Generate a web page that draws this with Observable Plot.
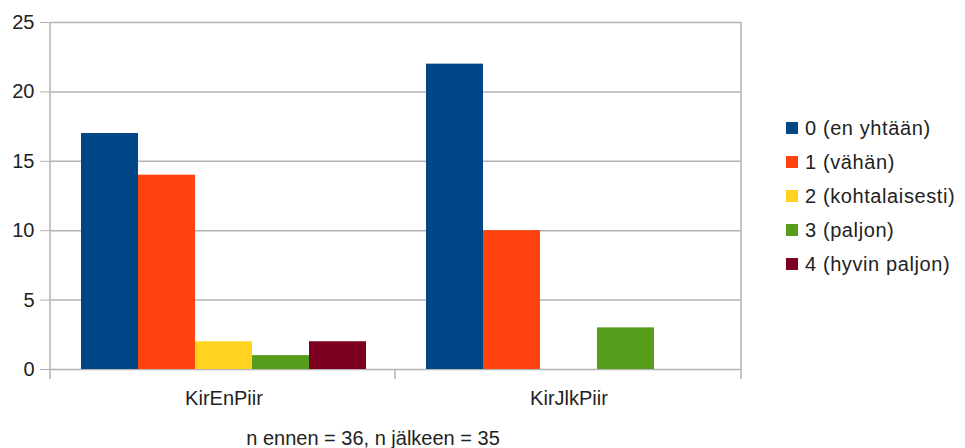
<!DOCTYPE html>
<html>
<head>
<meta charset="utf-8">
<script src="https://cdn.jsdelivr.net/npm/d3@7"></script>
<script src="https://cdn.jsdelivr.net/npm/@observablehq/plot@0.6"></script>
<style>
  html, body { margin: 0; padding: 0; background: #fff; overflow: hidden; }
  #wrap { position: relative; width: 965px; height: 448px; font-family: "Liberation Sans", Arial, sans-serif; color: #222; }
  #legend { position: absolute; left: 786px; top: 111px; font-size: 20px; }
  #legend .row { height: 34px; display: flex; align-items: center; white-space: nowrap; letter-spacing: 0.6px; }
  #legend .sw { width: 12px; height: 12px; margin-right: 7px; flex: none; }
  #caption { position: absolute; left: 0; width: 746px; top: 428px; text-align: center; font-size: 20px; line-height: 20px; white-space: nowrap; }
  svg [aria-label^="y-axis"] line, svg [aria-label^="y-axis"] path { stroke: #b3b3b3; }
</style>
</head>
<body>
<div id="wrap"></div>
<script>
const groups = ["KirEnPiir", "KirJlkPiir"];
const seriesNames = ["0 (en yhtään)", "1 (vähän)", "2 (kohtalaisesti)", "3 (paljon)", "4 (hyvin paljon)"];
const kirEnPiir = [17, 14, 2, 1, 2];
const kirJlkPiir = [22, 10, 0, 3, 0];
const seriesColors = ["#004586", "#ff420e", "#ffd320", "#579d1c", "#7e0021"];
const yTicks = [0, 5, 10, 15, 20, 25];
const captionText = "n ennen = 36, n jälkeen = 35";

const valuesByGroup = [kirEnPiir, kirJlkPiir];
const data = [];
groups.forEach((g, gi) => seriesNames.forEach((s, si) => data.push({group: g, series: s, value: valuesByGroup[gi][si]})));

const gridColor = "#b3b3b3";

const plot = Plot.plot({
  width: 965,
  height: 448,
  marginLeft: 50,
  marginRight: 224,
  marginTop: 22,
  marginBottom: 79,
  style: {fontSize: "20px", fontFamily: "'Liberation Sans', Arial, sans-serif", color: "#222", background: "transparent"},
  fx: {domain: groups, padding: 0, axis: "bottom", label: null, tickSize: 0, tickPadding: 21},
  x: {domain: seriesNames, paddingInner: 0, paddingOuter: 0.5, axis: null},
  y: {domain: [0, 25], ticks: yTicks, tickSize: 11, tickPadding: 6, label: null},
  color: {domain: seriesNames, range: seriesColors},
  marks: [
    Plot.ruleY(yTicks, {stroke: gridColor, strokeWidth: 1.5}),
    Plot.barY(data, {fx: "group", x: "series", y: "value", fill: "series"})
  ]
});

// Frame lines (axis line, right border, group separator ticks) from the plot's own scales
const fx = plot.scale("fx");
const y = plot.scale("y");
const svg = d3.select(plot);
const [x0, x1] = fx.range;
const yBottom = y.range[0], yTop = y.range[1];
const bounds = groups.map((g, i) => x0 + i * fx.step).concat([x1]);
const g = svg.append("g").attr("stroke", gridColor).attr("stroke-width", 1.5);
bounds.forEach((bx, i) => {
  const full = (i === 0 || i === bounds.length - 1);
  g.append("line").attr("x1", bx).attr("x2", bx)
    .attr("y1", full ? yTop : yBottom).attr("y2", yBottom + 10);
});

const wrap = document.getElementById("wrap");
wrap.appendChild(plot);

const legend = document.createElement("div");
legend.id = "legend";
seriesNames.forEach((s, i) => {
  const row = document.createElement("div");
  row.className = "row";
  const sw = document.createElement("span");
  sw.className = "sw";
  sw.style.background = seriesColors[i];
  const t = document.createElement("span");
  t.textContent = s;
  row.appendChild(sw); row.appendChild(t);
  legend.appendChild(row);
});
wrap.appendChild(legend);

const cap = document.createElement("div");
cap.id = "caption";
cap.textContent = captionText;
wrap.appendChild(cap);
</script>
</body>
</html>
